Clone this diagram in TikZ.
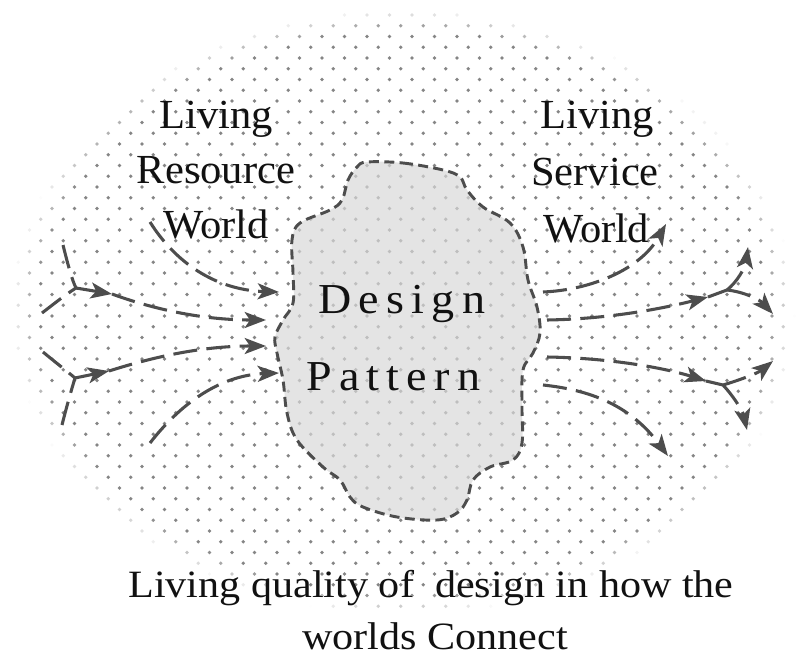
\documentclass[tikz,border=0pt]{standalone}
\usepackage{fontspec}
\setmainfont{Liberation Serif}
\newfontfamily\dpfont[LetterSpace=17,FakeStretch=1.08]{Liberation Serif}
\newfontfamily\labfont[FakeStretch=1.03]{Liberation Serif}
\newfontfamily\botfont[FakeStretch=1.09]{Liberation Serif}
\usetikzlibrary{arrows.meta}
\definecolor{dotcol}{HTML}{858585}
\definecolor{linecol}{HTML}{4D4D4D}
\definecolor{blobfill}{HTML}{D8D8D8}
\definecolor{txtcol}{HTML}{111111}
\begin{document}
\begin{tikzpicture}[x=0.75pt,y=-0.75pt,
  flow/.style={draw=linecol, line width=2.3pt, dash pattern=on 18pt off 7pt},
  tip/.style={-{Stealth[length=16pt,width=12pt,inset=4pt]}},
  lab/.style={inner sep=0pt, anchor=base, text=txtcol, font=\labfont\fontsize{31}{38}\selectfont},
  dplab/.style={inner sep=0pt, anchor=base west, text=txtcol, font=\dpfont\fontsize{32}{38}\selectfont},
  botlab/.style={inner sep=0pt, anchor=base, text=txtcol, font=\botfont\fontsize{29}{36}\selectfont},
  blob/.style={draw=linecol, line width=2.2pt, dash pattern=on 7.5pt off 4pt, fill=blobfill, fill opacity=0.69, draw opacity=1}]
\useasboundingbox (0,0) rectangle (801,657);

% dotted elliptical field
\foreach \j in {0,...,56}{
  \foreach \i in {0,...,35}{
    \pgfmathsetmacro\dx{7+22.5*\i+11.25*mod(\j,2)}
    \pgfmathsetmacro\dy{15+10.75*\j}
    \pgfmathsetmacro\rr{sqrt(((\dx-403)/392)^2+((\dy-312)/303)^2)}
    \pgfmathsetmacro\op{min(1,max(0,(1-\rr)/0.07))}
    \ifdim\op pt>0.01pt
      \fill[dotcol, opacity=\op] (\dx,\dy) circle[radius=1.8];
    \fi
  }
}

% design pattern blob
\path[blob] plot[smooth cycle, tension=0.6] coordinates {
 (367,162) (403,163) (443,170) (460,177) (467,190) (483,207) (510,223)
 (523,247) (528,280) (537,307) (540,333) (533,353) (523,370) (522,407)
 (522,443) (513,460) (490,467) (473,480) (467,500) (457,513) (437,520)
 (397,517) (363,507) (350,497) (340,480) (323,467) (297,440) (287,413)
 (283,380) (277,353) (275,337) (283,320) (293,303) (293,273) (292,240)
 (300,223) (330,210) (342,200) (348,180) (357,167)};

% coordinates of the flows
\coordinate (a0) at (150,222); \coordinate (a1) at (279,292);
\coordinate (b0) at (63,245);  \coordinate (b1) at (42,313);
\coordinate (jb) at (76,288);  \coordinate (mb) at (112,294); \coordinate (b2) at (266,320);
\coordinate (c0) at (43,352);  \coordinate (c1) at (62,425);
\coordinate (jc) at (75,378);  \coordinate (mc) at (109,371); \coordinate (c2) at (266,346);
\coordinate (d0) at (150,443); \coordinate (d1) at (279,373);
\coordinate (e0) at (543,292); \coordinate (e1) at (666,224);
\coordinate (f0) at (547,320); \coordinate (mf) at (708,297); \coordinate (jf) at (727,290);
\coordinate (f1) at (748,247); \coordinate (f2) at (773,314);
\coordinate (g0) at (547,357); \coordinate (mg) at (706,381); \coordinate (jg) at (723,385);
\coordinate (g1) at (773,361); \coordinate (g2) at (747,430);
\coordinate (h0) at (543,385); \coordinate (h1) at (668,456);

% left flows (into the pattern)
\draw[flow,tip] (a0) .. controls (175,262) and (215,290) .. (a1);
\draw[flow] (b0) .. controls (68,265) and (72,280) .. (jb);
\draw[flow] (b1) .. controls (55,303) and (65,295) .. (jb);
\draw[flow,tip] (jb) -- (mb);
\draw[flow,tip] (mb) .. controls (150,308) and (200,320) .. (b2);
\draw[flow] (c0) .. controls (55,362) and (68,372) .. (jc);
\draw[flow] (c1) .. controls (67,405) and (72,388) .. (jc);
\draw[flow,tip] (jc) -- (mc);
\draw[flow,tip] (mc) .. controls (150,358) and (200,346) .. (c2);
\draw[flow,tip] (d0) .. controls (185,398) and (225,375) .. (d1);

% right flows (out of the pattern)
\draw[flow,tip] (e0) .. controls (590,290) and (640,270) .. (e1);
\draw[flow,tip] (f0) .. controls (610,319) and (665,308) .. (mf);
\draw[flow] (mf) -- (jf);
\draw[flow,tip] (jf) .. controls (737,282) and (745,268) .. (f1);
\draw[flow,tip] (jf) .. controls (745,292) and (760,300) .. (f2);
\draw[flow,tip] (g0) .. controls (610,358) and (665,368) .. (mg);
\draw[flow] (mg) -- (jg);
\draw[flow,tip] (jg) .. controls (740,380) and (758,373) .. (g1);
\draw[flow,tip] (jg) .. controls (735,398) and (743,412) .. (g2);
\draw[flow,tip] (h0) .. controls (590,390) and (630,405) .. (h1);

% labels
\node[lab] (rl1) at (216,128) {Living};
\node[lab] (rl2) at (216,183) {Resource};
\node[lab] (rl3) at (216,238) {World};
\node[lab] (sl1) at (597,128) {Living};
\node[lab] (sl2) at (595,185) {Service};
\node[lab] (sl3) at (596,242) {World};
\node[dplab] (dp1) at (318,313) {Design};
\node[dplab] (dp2) at (306,390) {Pattern};
\node[botlab] (cap1) at (431,597) {Living quality of\ \ design in how the};
\node[botlab] (cap2) at (435,649) {worlds Connect};
\end{tikzpicture}
\end{document}
